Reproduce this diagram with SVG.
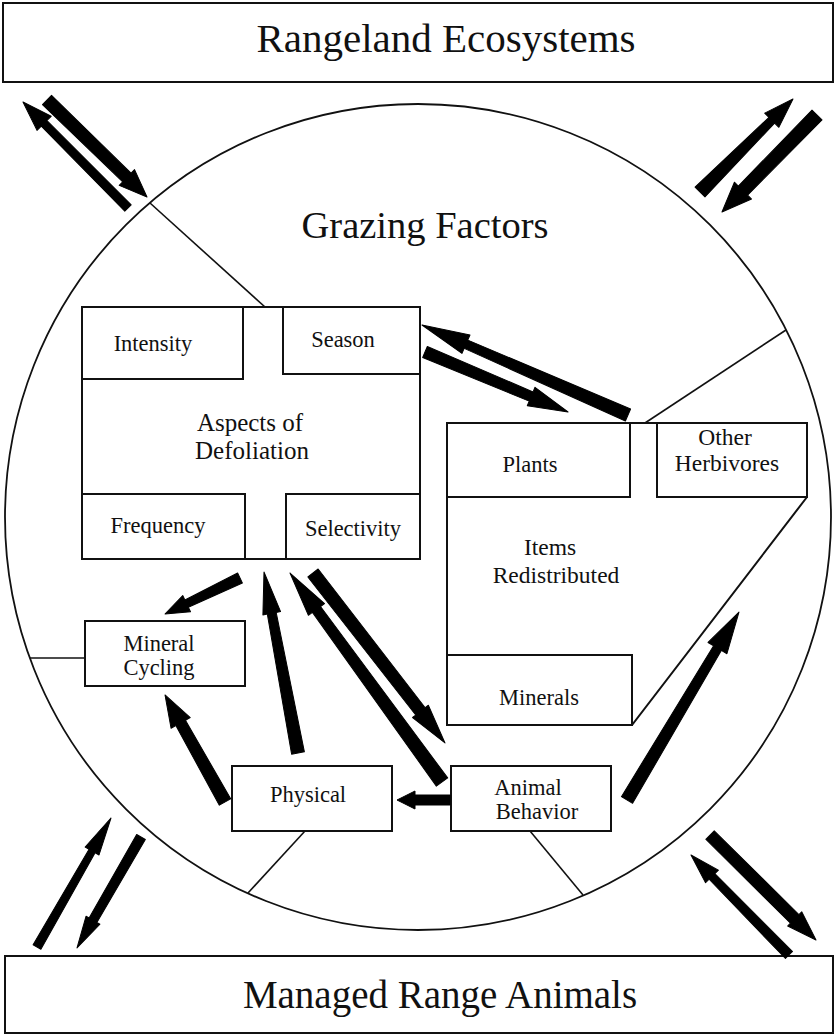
<svg xmlns="http://www.w3.org/2000/svg" width="837" height="1036" viewBox="0 0 837 1036">
  <style>
    .box { fill: none; stroke: #111; stroke-width: 2; }
    .tie { fill: none; stroke: #111; stroke-width: 1.6; }
    .ring { fill: none; stroke: #111; stroke-width: 1.8; }
    .big { font-family: "Liberation Serif", "Times New Roman", serif; font-size: 40px; fill: #111; text-anchor: middle; }
    .mid { font-family: "Liberation Serif", "Times New Roman", serif; font-size: 25px; fill: #111; text-anchor: middle; }
    .lbl { font-family: "Liberation Serif", "Times New Roman", serif; font-size: 22.5px; fill: #111; text-anchor: middle; }
    .lbl2 { font-family: "Liberation Serif", "Times New Roman", serif; font-size: 23.5px; fill: #111; text-anchor: middle; }
    .arrow { fill: #000; stroke: #000; stroke-width: 1; stroke-linejoin: round; }
  </style>

  <rect id="bg" x="0" y="0" width="837" height="1036" fill="#fff"/>

  <!-- outer context boxes -->
  <g id="rangeland-ecosystems">
    <rect class="box" x="3" y="3" width="830" height="79"/>
    <text class="big" x="446" y="52" style="font-size:41px">Rangeland Ecosystems</text>
  </g>
  <g id="managed-range-animals">
    <rect class="box" x="5" y="956" width="828" height="77"/>
    <text class="big" x="440" y="1008" style="font-size:39px">Managed Range Animals</text>
  </g>

  <!-- grazing factors circle with its partition lines -->
  <g id="grazing-factors">
    <circle class="ring" cx="418" cy="517" r="413"/>
    <text class="big" x="425" y="238" style="font-size:38.5px">Grazing Factors</text>
    <line class="tie" x1="150" y1="203" x2="265" y2="307"/>
    <line class="tie" x1="645" y1="423" x2="786" y2="330"/>
    <line class="tie" x1="85" y1="658" x2="30" y2="658"/>
    <line class="tie" x1="305" y1="831" x2="248" y2="893"/>
    <line class="tie" x1="530" y1="831" x2="583" y2="895"/>
  </g>

  <g id="aspects-of-defoliation">
    <rect class="box" x="82" y="307" width="338" height="252"/>
    <text class="mid" x="250" y="431">Aspects of</text>
    <text class="mid" x="252" y="459">Defoliation</text>
  </g>
  <g id="intensity">
    <rect class="box" x="82" y="307" width="161" height="72"/>
    <text class="lbl" x="153" y="351">Intensity</text>
  </g>
  <g id="season">
    <rect class="box" x="283" y="307" width="137" height="67"/>
    <text class="lbl" x="343" y="347">Season</text>
  </g>
  <g id="frequency">
    <rect class="box" x="82" y="494" width="163" height="65"/>
    <text class="lbl" x="158" y="533">Frequency</text>
  </g>
  <g id="selectivity">
    <rect class="box" x="286" y="494" width="134" height="65"/>
    <text class="lbl" x="353" y="536">Selectivity</text>
  </g>

  <g id="items-redistributed">
    <polygon class="box" points="447,423 807,423 807,497 632,725 447,725"/>
    <text class="lbl2" x="550" y="555">Items</text>
    <text class="lbl2" x="556" y="583">Redistributed</text>
  </g>
  <g id="plants">
    <rect class="box" x="447" y="423" width="183" height="74"/>
    <text class="lbl" x="530" y="472">Plants</text>
  </g>
  <g id="other-herbivores">
    <rect class="box" x="657" y="423" width="150" height="74"/>
    <text class="lbl2" x="725" y="445">Other</text>
    <text class="lbl2" x="727" y="471">Herbivores</text>
  </g>
  <g id="minerals">
    <rect class="box" x="447" y="655" width="185" height="70"/>
    <text class="lbl" x="539" y="705">Minerals</text>
  </g>

  <g id="mineral-cycling">
    <rect class="box" x="85" y="621" width="160" height="65"/>
    <text class="lbl" x="159" y="651">Mineral</text>
    <text class="lbl" x="159" y="675">Cycling</text>
  </g>
  <g id="physical">
    <rect class="box" x="232" y="766" width="160" height="65"/>
    <text class="lbl" x="308" y="802">Physical</text>
  </g>
  <g id="animal-behavior">
    <rect class="box" x="451" y="766" width="160" height="65"/>
    <text class="lbl" x="528" y="795">Animal</text>
    <text class="lbl" x="537" y="819">Behavior</text>
  </g>

  <!-- heavy arrows: each drawn along +x from its tail, then placed -->
  <g id="connectors">
    <polygon class="arrow" transform="translate(128,208) rotate(-134.73)" points="0,-4.5 119.2,-4 119.2,-10 149.2,0 119.2,10 119.2,4 0,4.5"/>
    <polygon class="arrow" transform="translate(47,100) rotate(44.13)" points="0,-6.5 111.3,-6 111.3,-11 139.3,0 111.3,11 111.3,6 0,6.5"/>
    <polygon class="arrow" transform="translate(700,192) rotate(-45)" points="0,-7 101.5,-4 101.5,-10 131.5,0 101.5,10 101.5,4 0,7"/>
    <polygon class="arrow" transform="translate(817,115) rotate(134.4)" points="0,-7 105.8,-6.5 105.8,-12 135.8,0 105.8,12 105.8,6.5 0,7"/>
    <polygon class="arrow" transform="translate(628,415) rotate(-156.4)" points="0,-6.5 176.8,-4.5 176.8,-10 224.8,0 176.8,10 176.8,4.5 0,6.5"/>
    <polygon class="arrow" transform="translate(425,352) rotate(22.76)" points="0,-6 115.1,-5 115.1,-10 155.1,0 115.1,10 115.1,5 0,6"/>
    <polygon class="arrow" transform="translate(240,578) rotate(154.36)" points="0,-5.5 59.2,-4 59.2,-9 83.2,0 59.2,9 59.2,4 0,5.5"/>
    <polygon class="arrow" transform="translate(298,753) rotate(-100.64)" points="0,-6.5 142.2,-4.5 142.2,-9 184.2,0 142.2,9 142.2,4.5 0,6.5"/>
    <polygon class="arrow" transform="translate(225,802) rotate(-119.27)" points="0,-6.5 90.7,-5.5 90.7,-11 122.7,0 90.7,11 90.7,5.5 0,6.5"/>
    <polygon class="arrow" transform="translate(442,782) rotate(-126.03)" points="0,-7 213.4,-5 213.4,-10 258.4,0 213.4,10 213.4,5 0,7"/>
    <polygon class="arrow" transform="translate(313,573) rotate(52.17)" points="0,-6.5 175.2,-6 175.2,-10 215.2,0 175.2,10 175.2,6 0,6.5"/>
    <polygon class="arrow" transform="translate(450,800) rotate(180)" points="0,-5 35,-5 35,-9 53,0 35,9 35,5 0,5"/>
    <polygon class="arrow" transform="translate(627,800) rotate(-59.22)" points="0,-6.5 176.8,-4.5 176.8,-11 218.8,0 176.8,11 176.8,4.5 0,6.5"/>
    <polygon class="arrow" transform="translate(37,947) rotate(-60.16)" points="0,-4.5 110.7,-3.5 110.7,-8 148.7,0 110.7,8 110.7,3.5 0,4.5"/>
    <polygon class="arrow" transform="translate(141,837) rotate(119.97)" points="0,-5 96.1,-4.5 96.1,-8 128.1,0 96.1,8 96.1,4.5 0,5"/>
    <polygon class="arrow" transform="translate(710,835) rotate(44.73)" points="0,-6 119.2,-6 119.2,-10 149.2,0 119.2,10 119.2,6 0,6"/>
    <polygon class="arrow" transform="translate(789,955) rotate(-134.43)" points="0,-5 110,-4 110,-9 140,0 110,9 110,4 0,5"/>
  </g>
</svg>
